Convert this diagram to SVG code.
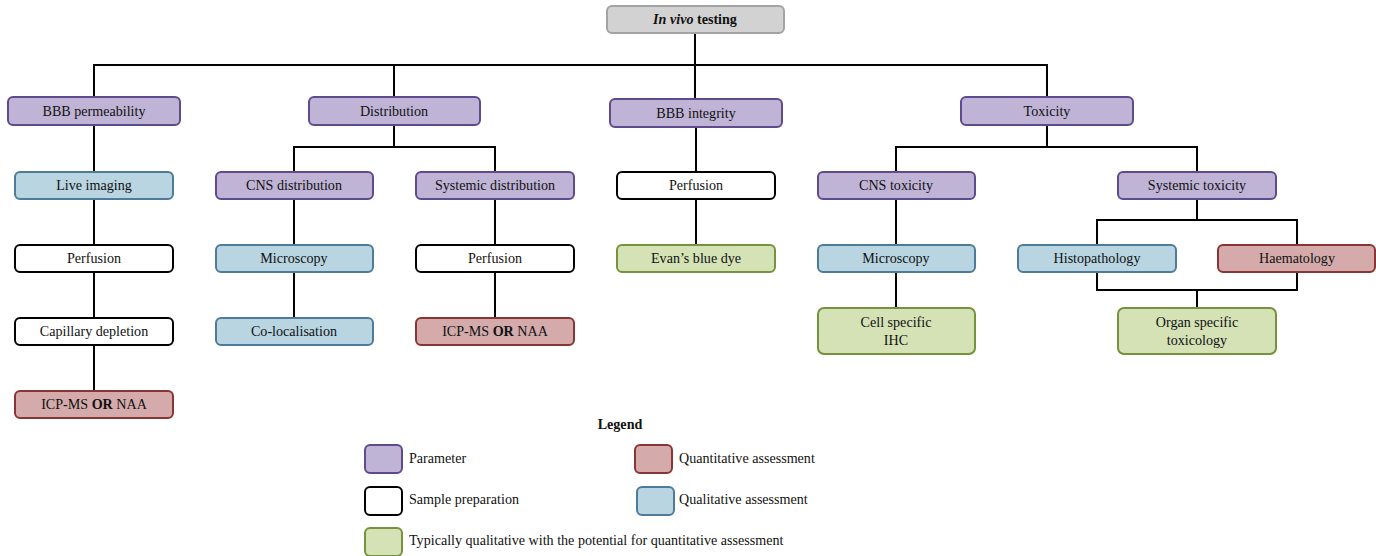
<svg xmlns="http://www.w3.org/2000/svg" width="1376" height="556" viewBox="0 0 1376 556">
<style>
text{font-family:"Liberation Serif","Times New Roman",serif;font-size:14.1px;fill:#111;text-anchor:middle}
.b{stroke-width:2}
.par{fill:#bfb3d6;stroke:#5e4a8c}
.top{fill:#d2d2d2;stroke:#a3a3a3}
.qual{fill:#b8d5e1;stroke:#4e7c98}
.quant{fill:#d4aaaa;stroke:#8a3535}
.prep{fill:#fff;stroke:#000}
.grn{fill:#d4e2b6;stroke:#76923c}
.lg{text-anchor:start}
#connectors path{fill:none;stroke:#000;stroke-width:2}
</style>
<g id="connectors">
<path d="M695 33V99M94 98V65H1047V97M394 65V97M94 125V391M394 125V147M294 172V147H495V172M294 199V318M495 199V318M696 127V245M1047 125V147M896 172V147H1197V172M896 199V308M1197 199V220M1097 245V220H1297V245M1097 272V290H1297V272M1197 290V308"/>
</g>
<g id="n-invivo"><rect class="top b" x="607" y="6" width="177" height="27" rx="5"/><text x="695" y="24"><tspan font-style="italic" font-weight="bold">In vivo</tspan><tspan font-weight="bold"> testing</tspan></text></g>
<g id="n-bbbperm"><rect class="par b" x="8" y="97" width="172" height="28" rx="5"/><text x="94" y="116">BBB permeability</text></g>
<g id="n-dist"><rect class="par b" x="309" y="97" width="171" height="28" rx="5"/><text x="394" y="116">Distribution</text></g>
<g id="n-bbbint"><rect class="par b" x="610" y="99" width="172" height="28" rx="5"/><text x="696" y="118">BBB integrity</text></g>
<g id="n-tox"><rect class="par b" x="961" y="97" width="172" height="28" rx="5"/><text x="1047" y="116">Toxicity</text></g>
<g id="n-live"><rect class="qual b" x="15" y="172" width="158" height="27" rx="5"/><text x="94" y="190">Live imaging</text></g>
<g id="n-cnsdist"><rect class="par b" x="216" y="172" width="157" height="27" rx="5"/><text x="294" y="190">CNS distribution</text></g>
<g id="n-sysdist"><rect class="par b" x="416" y="172" width="158" height="27" rx="5"/><text x="495" y="190">Systemic distribution</text></g>
<g id="n-perf2"><rect class="prep b" x="617" y="172" width="158" height="27" rx="5"/><text x="696" y="190">Perfusion</text></g>
<g id="n-cnstox"><rect class="par b" x="818" y="172" width="157" height="27" rx="5"/><text x="896" y="190">CNS toxicity</text></g>
<g id="n-systox"><rect class="par b" x="1118" y="172" width="158" height="27" rx="5"/><text x="1197" y="190">Systemic toxicity</text></g>
<g id="n-perf1"><rect class="prep b" x="15" y="245" width="158" height="27" rx="5"/><text x="94" y="263">Perfusion</text></g>
<g id="n-micro1"><rect class="qual b" x="216" y="245" width="157" height="27" rx="5"/><text x="294" y="263">Microscopy</text></g>
<g id="n-perf3"><rect class="prep b" x="416" y="245" width="158" height="27" rx="5"/><text x="495" y="263">Perfusion</text></g>
<g id="n-evans"><rect class="grn b" x="617" y="245" width="158" height="27" rx="5"/><text x="696" y="263">Evan’s blue dye</text></g>
<g id="n-micro2"><rect class="qual b" x="818" y="245" width="157" height="27" rx="5"/><text x="896" y="263">Microscopy</text></g>
<g id="n-histo"><rect class="qual b" x="1018" y="245" width="158" height="27" rx="5"/><text x="1097" y="263">Histopathology</text></g>
<g id="n-haem"><rect class="quant b" x="1218" y="245" width="157" height="27" rx="5"/><text x="1297" y="263">Haematology</text></g>
<g id="n-capdep"><rect class="prep b" x="15" y="318" width="158" height="27" rx="5"/><text x="94" y="336">Capillary depletion</text></g>
<g id="n-coloc"><rect class="qual b" x="216" y="318" width="157" height="27" rx="5"/><text x="294" y="336">Co-localisation</text></g>
<g id="n-icp2"><rect class="quant b" x="416" y="318" width="158" height="27" rx="5"/><text x="495" y="336">ICP-MS <tspan font-weight="bold">OR</tspan> NAA</text></g>
<g id="n-cellihc"><rect class="grn b" x="818" y="308" width="157" height="46" rx="6"/><text x="896" y="327">Cell specific</text><text x="896" y="345">IHC</text></g>
<g id="n-organ"><rect class="grn b" x="1118" y="308" width="158" height="46" rx="6"/><text x="1197" y="327">Organ specific</text><text x="1197" y="345">toxicology</text></g>
<g id="n-icp1"><rect class="quant b" x="15" y="391" width="158" height="27" rx="5"/><text x="94" y="409">ICP-MS <tspan font-weight="bold">OR</tspan> NAA</text></g>
<g id="legend">
<text x="620" y="429" font-weight="bold">Legend</text>
<rect class="par b" x="365" y="445" width="37" height="28" rx="5"/><text class="lg" x="409" y="463">Parameter</text>
<rect class="quant b" x="635" y="445" width="37" height="28" rx="5"/><text class="lg" x="679" y="463">Quantitative assessment</text>
<rect class="prep b" x="365" y="487" width="37" height="28" rx="5"/><text class="lg" x="409" y="504">Sample preparation</text>
<rect class="qual b" x="637" y="487" width="37" height="28" rx="5"/><text class="lg" x="679" y="504">Qualitative assessment</text>
<rect class="grn b" x="365" y="528" width="37" height="28" rx="5"/><text class="lg" x="409" y="545">Typically qualitative with the potential for quantitative assessment</text>
</g>
</svg>
